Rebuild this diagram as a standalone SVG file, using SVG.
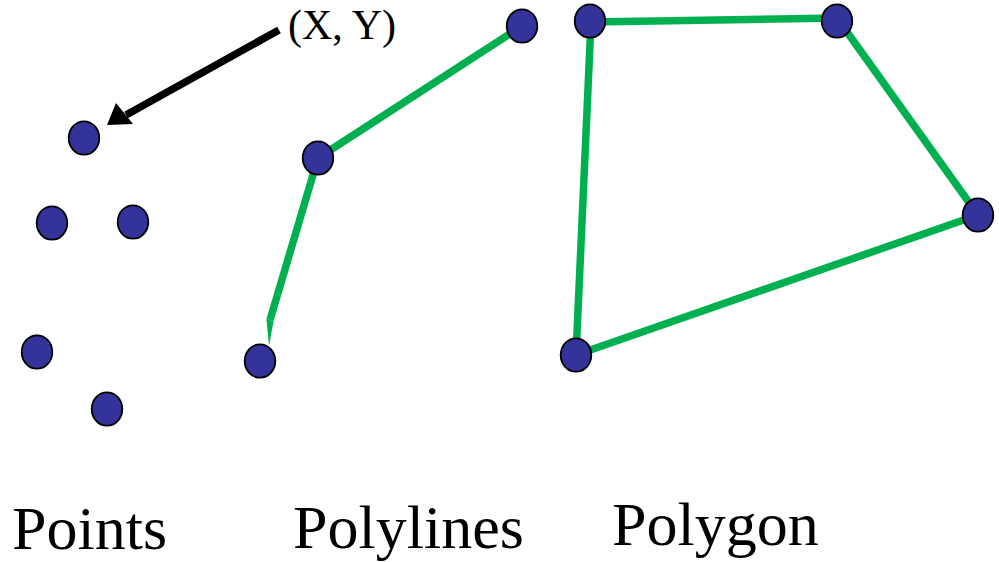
<svg xmlns="http://www.w3.org/2000/svg" width="999" height="562" viewBox="0 0 999 562">
<style>
.pt{fill:#333399;stroke:#000;stroke-width:1.8}
.ln{stroke:#00B050;stroke-width:7.5;fill:none}
.lbl{font-family:"Liberation Serif","Times New Roman",serif;fill:#000}
</style>
<rect width="999" height="562" fill="#fff"/>
<g id="connectors">
<line class="ln" x1="318" y1="158" x2="522" y2="26"/>
<line class="ln" x1="318" y1="158" x2="270" y2="320"/>
<polygon points="266.4,319 273.6,321 269,346" fill="#00B050"/>
<polygon class="ln" points="591,22 837,18 978,215 576,355" stroke-linejoin="round"/>
<line x1="279" y1="30" x2="126" y2="115" stroke="#000" stroke-width="7.5"/>
<polygon points="107,125 116,103 133,124" fill="#000"/>
</g>
<g id="points">
<ellipse class="pt" cx="84" cy="138" rx="15.3" ry="16.7"/>
<ellipse class="pt" cx="52" cy="223" rx="15.3" ry="16.7"/>
<ellipse class="pt" cx="133" cy="222" rx="15.3" ry="16.7"/>
<ellipse class="pt" cx="37" cy="352" rx="15.3" ry="16.7"/>
<ellipse class="pt" cx="107" cy="409" rx="15.3" ry="16.7"/>
</g>
<g id="polyline-nodes">
<ellipse class="pt" cx="260" cy="361" rx="15.3" ry="16.7"/>
<ellipse class="pt" cx="318" cy="158" rx="15.3" ry="16.7"/>
<ellipse class="pt" cx="522" cy="26" rx="15.3" ry="16.7"/>
</g>
<g id="polygon-nodes">
<ellipse class="pt" cx="590" cy="21" rx="15.3" ry="16.7"/>
<ellipse class="pt" cx="837" cy="21" rx="15.3" ry="16.7"/>
<ellipse class="pt" cx="978" cy="215" rx="15.3" ry="16.7"/>
<ellipse class="pt" cx="576" cy="355" rx="15.3" ry="16.7"/>
</g>
<g id="labels">
<text class="lbl" x="288" y="39" font-size="42">(X, Y)</text>
<text class="lbl" x="12" y="549" font-size="62">Points</text>
<text class="lbl" x="293" y="548" font-size="62">Polylines</text>
<text class="lbl" x="612" y="545" font-size="62">Polygon</text>
</g>
</svg>
